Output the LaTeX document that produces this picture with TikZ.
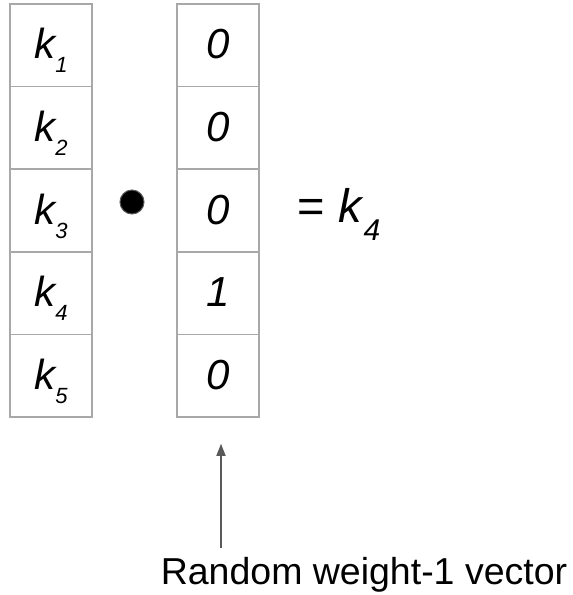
\documentclass[tikz,border=0pt]{standalone}
\usepackage{fontspec}
\setmainfont{Liberation Sans}
\usetikzlibrary{arrows.meta, positioning}
\definecolor{cborder}{HTML}{A8A8A8}
\definecolor{cgrey}{HTML}{595959}
\newcommand{\ksub}[1]{k\raisebox{-14pt}{\fontsize{22}{22}\selectfont #1}}
\tikzset{
  every picture/.style={line width=1.5pt},
  cell/.style={draw=cborder, minimum width=82pt, minimum height=82.6pt, inner sep=0pt,
               text height=27pt, text depth=0pt, font=\fontsize{42}{46}\selectfont\itshape},
  arrow/.style={-{Triangle[length=12pt, width=9pt]}, draw=cgrey, line width=1.5pt},
  note/.style={font=\fontsize{37.5}{42}\selectfont, anchor=base},
}

\begin{document}
\begin{tikzpicture}[x=1pt, y=-1pt]
  \useasboundingbox (0,0) rectangle (573,595);
  % key column and selector column
  \foreach \c/\v [count=\i] in {1/0, 2/0, 3/0, 4/1, 5/0} {
    \node[cell] (k\i) at (51,{4+82.6*(\i-0.5)}) {\ksub{\c}};
    \node[cell] (v\i) at (218,{4+82.6*(\i-0.5)}) {\v};
  }
  \node[circle, fill=black, draw=cgrey, line width=1pt, minimum size=24pt, inner sep=0pt] (dot) at (132,202) {};
  \node[anchor=base west, inner sep=0pt, font=\fontsize{47}{52}\selectfont] (res) at (297,222)
    {= \textit{k}\raisebox{-18pt}{\fontsize{30}{30}\selectfont\itshape 4}};
  % label and arrow
  \node[note] (lbl) at (364,584) {Random weight-1 vector};
  \coordinate (tail) at (221,548);
  \draw[arrow, shorten >=26pt] (tail) -- (tail |- v5.south);
\end{tikzpicture}
\end{document}
